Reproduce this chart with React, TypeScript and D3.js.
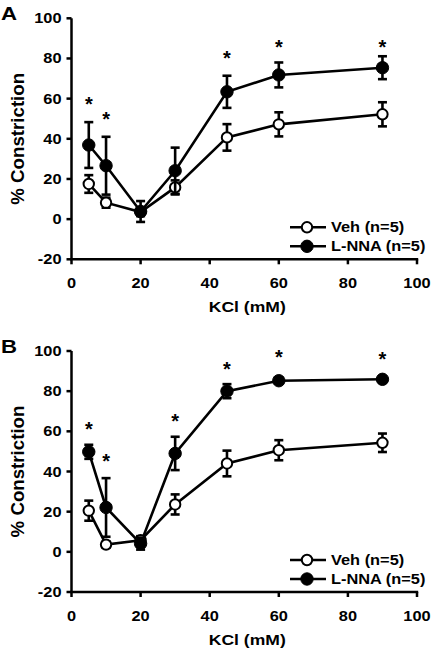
import React from "react";
import * as d3 from "d3";

const kcl = [5, 10, 20, 30, 45, 60, 90];
const xTicks = [0, 20, 40, 60, 80, 100];
const yTicks = [-20, 0, 20, 40, 60, 80, 100];

const vehA = [17.5, 8.2, 3.5, 15.8, 40.7, 47.2, 52.2];
const vehAErr = [4.4, 2.5, 2, 3.5, 6.6, 6, 6];
const lnnaA = [36.9, 26.6, 3.8, 24.1, 63.4, 71.8, 75.4];
const lnnaAErr = [11.4, 14.4, 5.2, 11.5, 8, 6.2, 5.7];
const starAx = [5, 10, 45, 60, 90];
const starAy = [59.3, 51.8, 82.1, 87.9, 87.9];

const vehB = [20.5, 3.6, 5.8, 23.6, 44, 50.6, 54.3];
const vehBErr = [5, 1.5, 2, 5, 6.4, 5, 4.6];
const lnnaB = [49.8, 22.1, 4.1, 49, 80, 85.2, 85.9];
const lnnaBErr = [3.5, 14.6, 3, 8.3, 3.5, 1.5, 1.5];
const starBx = [5, 10, 30, 45, 60, 90];
const starBy = [63, 47.3, 66.9, 93, 98.8, 98];

const legendLabels = ["Veh (n=5)", "L-NNA (n=5)"];
const panelLabels = ["A", "B"];

const FONT = "'Liberation Sans', Arial, sans-serif";
const SX = 1.17;

type PanelProps = {
  top: number;
  letter: string;
  veh: number[];
  vehErr: number[];
  lnna: number[];
  lnnaErr: number[];
  sx: number[];
  sy: number[];
};

function Panel({ top, letter, veh, vehErr, lnna, lnnaErr, sx, sy }: PanelProps) {
  const x = d3.scaleLinear().domain([0, 100]).range([71.5, 417]);
  const y = d3.scaleLinear().domain([-20, 100]).range([top + 241, top]);
  const line = d3
    .line<number>()
    .x((_, i) => x(kcl[i]))
    .y((d) => y(d));
  const sw = 2.6;
  const series = [
    { vals: veh, err: vehErr, fill: "#fff", r: 5.2 },
    { vals: lnna, err: lnnaErr, fill: "#000", r: 6.2 },
  ];
  const y0 = y(-20);
  return (
    <g>
      <text
        transform={`translate(1,${top + 2}) scale(${SX},1)`}
        fontFamily={FONT}
        fontWeight="bold"
        fontSize={19}
      >
        {letter}
      </text>
      {/* y axis */}
      <line x1={x(0)} x2={x(0)} y1={y(100)} y2={y0} stroke="#000" strokeWidth={2.5} />
      {yTicks.map((t) => (
        <g key={"yt" + t}>
          <line x1={x(0) - 5} x2={x(0)} y1={y(t)} y2={y(t)} stroke="#000" strokeWidth={2.5} />
          <text
            transform={`translate(${x(0) - 10},${y(t) + 5}) scale(${SX},1)`}
            textAnchor="end"
            fontFamily={FONT}
            fontWeight="bold"
            fontSize={14}
          >
            {t}
          </text>
        </g>
      ))}
      {/* x axis */}
      <line x1={x(0) - 1.2} x2={x(100) + 1.2} y1={y0} y2={y0} stroke="#000" strokeWidth={2.5} />
      {xTicks.map((t) => (
        <g key={"xt" + t}>
          <line x1={x(t)} x2={x(t)} y1={y0} y2={y0 + 5} stroke="#000" strokeWidth={2.5} />
          <text
            transform={`translate(${x(t)},${y0 + 29}) scale(${SX},1)`}
            textAnchor="middle"
            fontFamily={FONT}
            fontWeight="bold"
            fontSize={14}
          >
            {t}
          </text>
        </g>
      ))}
      <text
        transform={`translate(${(x(0) + x(100)) / 2 + 3},${y0 + 53}) scale(${SX},1)`}
        textAnchor="middle"
        fontFamily={FONT}
        fontWeight="bold"
        fontSize={15}
      >
        KCl (mM)
      </text>
      <text
        transform={`translate(24,${(y(100) + y0) / 2}) rotate(-90)`}
        textAnchor="middle"
        fontFamily={FONT}
        fontWeight="bold"
        fontSize={18.7}
      >
        % Constriction
      </text>
      {/* lines */}
      {series.map((s, k) => (
        <path key={"l" + k} d={line(s.vals) || ""} fill="none" stroke="#000" strokeWidth={sw} />
      ))}
      {/* error bars + markers */}
      {series.map((s, k) => (
        <g key={"s" + k}>
          {s.vals.map((v, i) => {
            const cx = x(kcl[i]);
            const hi = y(v + s.err[i]);
            const lo = y(v - s.err[i]);
            return (
              <g key={i}>
                <line x1={cx} x2={cx} y1={hi} y2={lo} stroke="#000" strokeWidth={sw} />
                <line x1={cx - 4.5} x2={cx + 4.5} y1={hi} y2={hi} stroke="#000" strokeWidth={sw} />
                <line x1={cx - 4.5} x2={cx + 4.5} y1={lo} y2={lo} stroke="#000" strokeWidth={sw} />
              </g>
            );
          })}
          {s.vals.map((v, i) => (
            <circle
              key={"c" + i}
              cx={x(kcl[i])}
              cy={y(v)}
              r={s.r}
              fill={s.fill}
              stroke="#000"
              strokeWidth={k === 0 ? 2 : 1}
            />
          ))}
        </g>
      ))}
      {/* asterisks */}
      {sx.map((xv, i) => (
        <text
          key={"st" + i}
          x={x(xv)}
          y={y(sy[i]) + 11}
          textAnchor="middle"
          fontFamily={FONT}
          fontWeight="bold"
          fontSize={20}
        >
          *
        </text>
      ))}
      {/* legend */}
      {legendLabels.map((lab, i) => {
        const ly = y(-20) - 32 + i * 19;
        const s = series[i];
        return (
          <g key={"lg" + i}>
            <line x1={290} x2={326} y1={ly} y2={ly} stroke="#000" strokeWidth={sw} />
            <circle cx={307} cy={ly} r={s.r} fill={s.fill} stroke="#000" strokeWidth={i === 0 ? 2 : 1} />
            <text
              transform={`translate(331,${ly + 5}) scale(${SX},1)`}
              fontFamily={FONT}
              fontWeight="bold"
              fontSize={14}
            >
              {lab}
            </text>
          </g>
        );
      })}
    </g>
  );
}

export default function App() {
  return (
    <svg
      width={432}
      height={648}
      style={{ position: "absolute", left: 0, top: 0, background: "#fff" }}
    >
      <rect width={432} height={648} fill="#fff" />
      <Panel
        top={18.3}
        letter={panelLabels[0]}
        veh={vehA}
        vehErr={vehAErr}
        lnna={lnnaA}
        lnnaErr={lnnaAErr}
        sx={starAx}
        sy={starAy}
      />
      <Panel
        top={351}
        letter={panelLabels[1]}
        veh={vehB}
        vehErr={vehBErr}
        lnna={lnnaB}
        lnnaErr={lnnaBErr}
        sx={starBx}
        sy={starBy}
      />
    </svg>
  );
}
